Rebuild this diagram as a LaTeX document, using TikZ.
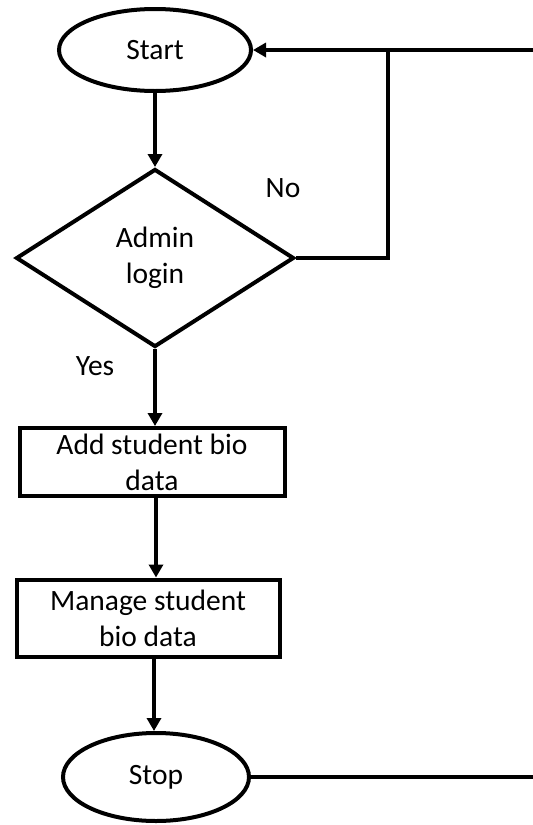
\documentclass[tikz,border=0pt]{standalone}
\usepackage{fontspec}
\setmainfont{Carlito}
\usetikzlibrary{shapes.geometric,arrows.meta}
\tikzset{
  every node/.style={font=\fontsize{29.5}{36}\selectfont, align=center},
  flow/.style={line width=4pt, -{Triangle[length=13pt,width=14pt]}},
  link/.style={line width=4pt},
  terminal/.style={ellipse, draw, line width=4pt, inner sep=0pt},
  process/.style={rectangle, draw, line width=4pt, inner sep=0pt},
  decision/.style={diamond, draw, line width=4pt, inner sep=0pt},
}
\begin{document}
\begin{tikzpicture}[x=1pt, y=-1pt]
  \useasboundingbox (0,0) rectangle (533,825);
  \fill[white] (0,0) rectangle (533,825);

  \node[terminal, minimum width=192pt, minimum height=82pt] (start) at (155,50) {Start};
  \node[decision, minimum width=278pt, minimum height=178pt] (login) at (155,258) {Admin\\login};
  \node[process, minimum width=265pt, minimum height=68pt] (add) at (152,462) {Add student bio\\data};
  \node[process, minimum width=263pt, minimum height=77pt] (manage) at (148,618) {Manage student\\bio data};
  \node[terminal, minimum width=186pt, minimum height=88pt] (stop) at (156,777) {Stop};

  \node at (283,188) {No};
  \node at (95,366) {Yes};

  \coordinate (join) at (388,50);
  \coordinate (topedge) at (535,50);
  \coordinate (botedge) at (535,777);

  \draw[flow] (start.south) -- (login.north);
  \draw[flow] (login.south) -- (login.south |- add.north);
  \draw[flow] (add.south) ++(4,0) coordinate (addout) -- (addout |- manage.north);
  \draw[flow] (manage.south) ++(6,0) coordinate (manout) -- (manout |- stop.north);
  \draw[link] (login.east) -| (join);
  \draw[flow] (topedge) -- (start.east);
  \draw[link] (stop.east) -- (botedge);
\end{tikzpicture}
\end{document}
